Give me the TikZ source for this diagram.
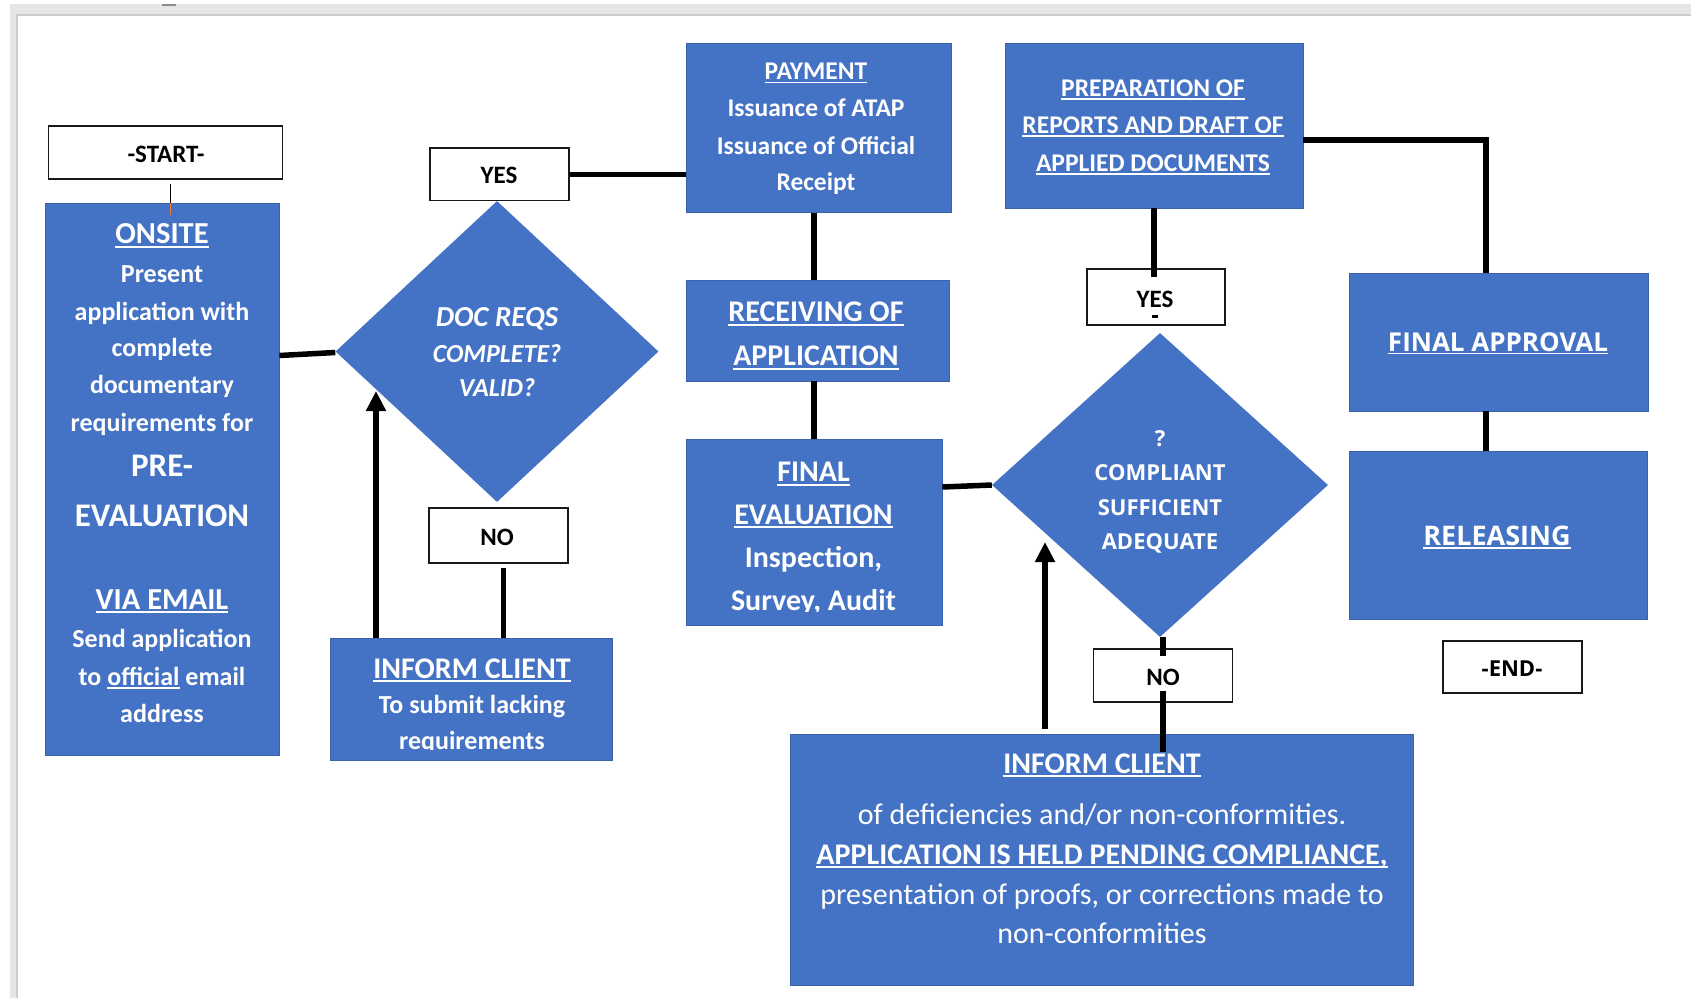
\documentclass[tikz,border=0pt]{standalone}
\usepackage{fontspec}
\setmainfont{Carlito}
\newfontfamily\osans{Open Sans}
\usetikzlibrary{shapes.geometric,arrows.meta}
\definecolor{oblue}{HTML}{4472C4}
\definecolor{bedge}{HTML}{3A63AE}
\definecolor{fband}{HTML}{E6E6E6}
\definecolor{fline}{HTML}{CCCCCC}
\definecolor{oorange}{HTML}{ED7D31}
\newcommand\fs[1]{\fontsize{#1}{#1}\selectfont}
\newcommand\ulx[1]{\setbox0\hbox{#1}\rlap{\rule[-0.13em]{\wd0}{0.07em}}\box0\relax}
\begin{document}
\begin{tikzpicture}[x=1pt,y=-1pt,
  box/.style={draw=bedge,line width=0.8pt,fill=oblue,inner sep=0pt},
  lbl/.style={draw=black!90,line width=1.5pt,fill=white,inner sep=0pt},
  dia/.style={diamond,fill=oblue,inner sep=0pt,aspect=1},
  tx/.style={anchor=base,text=white,inner sep=0pt},
  fb/.style={font=\fs{#1}\bfseries},
  fr/.style={font=\fs{#1}},
  fbi/.style={font=\fs{#1}\bfseries\itshape},
  fo/.style={font=\osans\fs{#1}\bfseries},
  conn/.style={line width=5.5pt,draw=black},
  arr/.style={conn,-{Triangle[length=20pt,width=19pt]}}]
\useasboundingbox (0,0) rectangle (1691,998);
\fill[white] (0,0) rectangle (1691,998);
% window frame
\fill[fband] (10,4) rectangle (1691,16);
\fill[fband] (10,4) rectangle (16,998);
\fill[fline] (16,14) rectangle (1691,16);
\fill[fline] (16,14) rectangle (18,998);
\fill[black!45] (162,4) rectangle (176,6);

% boxes
\node[lbl,minimum width=234pt,minimum height=53pt] (start) at (165.5,152.5) {};
\node[box,minimum width=234pt,minimum height=552pt] (onsite) at (162,479) {};
\node[dia,minimum width=323pt,minimum height=301pt] (d1) at (497,351.5) {};
\node[lbl,minimum width=139pt,minimum height=52.6pt] (yes1) at (499.5,174.3) {};
\node[lbl,minimum width=139pt,minimum height=55pt] (no1) at (498.5,535.5) {};
\node[box,minimum width=282.5pt,minimum height=122pt] (ic1) at (471.25,699) {};
\node[box,minimum width=265pt,minimum height=169.5pt] (payment) at (818.5,127.75) {};
\node[box,minimum width=263pt,minimum height=101pt] (receiving) at (817.5,330.5) {};
\node[box,minimum width=256pt,minimum height=186pt] (fe) at (814,532) {};
\node[box,minimum width=298pt,minimum height=165pt] (prep) at (1154,125.5) {};
\node[lbl,minimum width=138pt,minimum height=56pt] (yes2) at (1156,297) {};
\node[dia,minimum width=336pt,minimum height=304pt] (d2) at (1160,485) {};
\node[box,minimum width=299pt,minimum height=138pt] (fa) at (1498.5,342) {};
\node[box,minimum width=298pt,minimum height=168pt] (rel) at (1498,535) {};
\node[lbl,minimum width=139pt,minimum height=52.4pt] (endb) at (1512.5,667) {};
\node[lbl,minimum width=139pt,minimum height=53pt] (no2) at (1163,675.5) {};
\node[box,minimum width=623pt,minimum height=251pt] (ic2) at (1101.5,859.5) {};

% texts
\node[tx,fb=25,text=black] (startT) at (166,162.3) {-START-};

\node[tx,fb=30.5] (on1) at (162,243.8) {\ulx{ONSITE}};
\node[tx,fb=26] (on2) at (162,282.5) {Present};
\node[tx,fb=26] (on3) at (162,320) {application with};
\node[tx,fb=26] (on4) at (162,356.6) {complete};
\node[tx,fb=26] (on5) at (162,393.3) {documentary};
\node[tx,fb=26] (on6) at (162,431) {requirements for};
\node[tx,fb=33] (on7) at (162,476.6) {PRE-};
\node[tx,fb=33] (on8) at (162,526) {EVALUATION};
\node[tx,fb=30.5] (on9) at (162,609.4) {\ulx{VIA EMAIL}};
\node[tx,fb=26] (on10) at (162,647.8) {Send application};
\node[tx,fb=26] (on11) at (162,685.5) {to \ulx{official} email};
\node[tx,fb=26] (on12) at (162,722.3) {address};

\node[tx,fbi=29] (d1a) at (497,326) {DOC REQS};
\node[tx,fbi=26] (d1b) at (497,362) {COMPLETE?};
\node[tx,fbi=26] (d1c) at (497,396.5) {VALID?};

\node[tx,fb=25,text=black] (yes1T) at (499,183) {YES};
\node[tx,fb=25,text=black] (no1T) at (497,545.5) {NO};

\node[tx,fb=30] (ic1a) at (472,678.3) {\ulx{INFORM CLIENT}};
\node[tx,fb=26] (ic1b) at (472,713.3) {To submit lacking};
\begin{scope}
\clip (330,700) rectangle (613,749.5);
\node[tx,fb=26] (ic1c) at (472,749.5) {requirements};
\end{scope}

\node[tx,fb=25.5] (pay1) at (816,80) {\ulx{PAYMENT}};
\node[tx,fb=25.5] (pay2) at (816,116.7) {Issuance of ATAP};
\node[tx,fb=25.5] (pay3) at (816,154) {Issuance of Official};
\node[tx,fb=25.5] (pay4) at (816,190.7) {Receipt};

\node[tx,fb=30] (rec1) at (816,321.7) {\ulx{RECEIVING OF}};
\node[tx,fb=30] (rec2) at (816,365.7) {\ulx{APPLICATION}};

\node[tx,fb=30] (fe1) at (813.5,481.7) {\ulx{FINAL}};
\node[tx,fb=30] (fe2) at (813.5,524) {\ulx{EVALUATION}};
\node[tx,fb=30] (fe3) at (813.5,567) {Inspection,};
\begin{scope}
\clip (686,570) rectangle (942,611);
\node[tx,fb=30] (fe4) at (813.5,610.5) {Survey, Audit};
\end{scope}

\node[tx,fb=25.5] (pr1) at (1153,96.7) {\ulx{PREPARATION OF}};
\node[tx,fb=25.5] (pr2) at (1153,133.3) {\ulx{REPORTS AND DRAFT OF}};
\node[tx,fb=25.5] (pr3) at (1153,171.7) {\ulx{APPLIED DOCUMENTS}};

\node[tx,fb=25,text=black] (yes2T) at (1155,307.3) {YES};

\node[tx,fo=22] (d2a) at (1160,446.7) {?};
\node[tx,fo=22] (d2b) at (1160,480.7) {COMPLIANT};
\node[tx,fo=22] (d2c) at (1160,515.7) {SUFFICIENT};
\node[tx,fo=22] (d2d) at (1160,549.3) {ADEQUATE};

\node[tx,fb=25,text=black] (no2T) at (1163,685) {NO};

\node[tx,fo=26] (faT) at (1498,351) {\ulx{FINAL APPROVAL}};
\node[tx,fo=27] (relT) at (1497,545) {\ulx{RELEASING}};
\node[tx,fo=22,text=black] (endT) at (1512,676.5) {-END-};

\node[tx,fb=30] (ic2a) at (1102,773.3) {\ulx{INFORM CLIENT}};
\node[tx,fr=30] (ic2b) at (1102,824) {of deficiencies and/or non-conformities.};
\node[tx,fb=30] (ic2c) at (1102,864) {\ulx{APPLICATION IS HELD PENDING COMPLIANCE,}};
\node[tx,fr=30] (ic2d) at (1102,904) {presentation of proofs, or corrections made to};
\node[tx,fr=30] (ic2e) at (1102,943.3) {non-conformities};

% connectors
\draw[line width=1pt] ([xshift=4.5pt,yshift=-4pt]start.south) -- ([xshift=8pt]onsite.north);
\draw[line width=1pt,oorange] ([xshift=8pt]onsite.north) -- ([xshift=8pt,yshift=-12pt]onsite.north);
\draw[conn] ([yshift=-4pt]onsite.east |- d1.west) -- ([yshift=-1pt]d1.west);
\draw[conn] (yes1.east) -- (yes1.east -| payment.west);
\draw[conn] ([xshift=5pt,yshift=-4pt]no1.south) -- ([xshift=5pt]no1.south |- ic1.north);
\coordinate (a1) at (376,391);
\draw[arr] (a1 |- ic1.north) -- (a1);
\draw[conn] ([xshift=-4.5pt]payment.south) -- ([xshift=-4.5pt]payment.south |- receiving.north);
\draw[conn] (fe.north |- receiving.south) -- (fe.north);
\draw[conn] ([yshift=-2pt]fe.east |- d2.west) -- (d2.west);
\draw[conn] (prep.south) -- ([yshift=-9pt]prep.south |- yes2.north);
\draw[line width=3pt] (1152,316.5) -- (1158,316.5);
\draw[conn] ([yshift=-14.5pt]prep.east) -| ([xshift=-12.5pt]fa.north);
\draw[conn] ([xshift=-12.5pt]fa.south) -- ([xshift=-12.5pt]fa.south |- rel.north);
\draw[conn] (no2.north |- d2.south) -- ([yshift=-8pt]no2.north);
\draw[conn] ([yshift=12pt]no2.south) -- ([yshift=-18pt]no2.south |- ic2.north);
\coordinate (a2) at (1045,542);
\draw[arr] ([yshift=5pt]a2 |- ic2.north) -- (a2);
\end{tikzpicture}
\end{document}
